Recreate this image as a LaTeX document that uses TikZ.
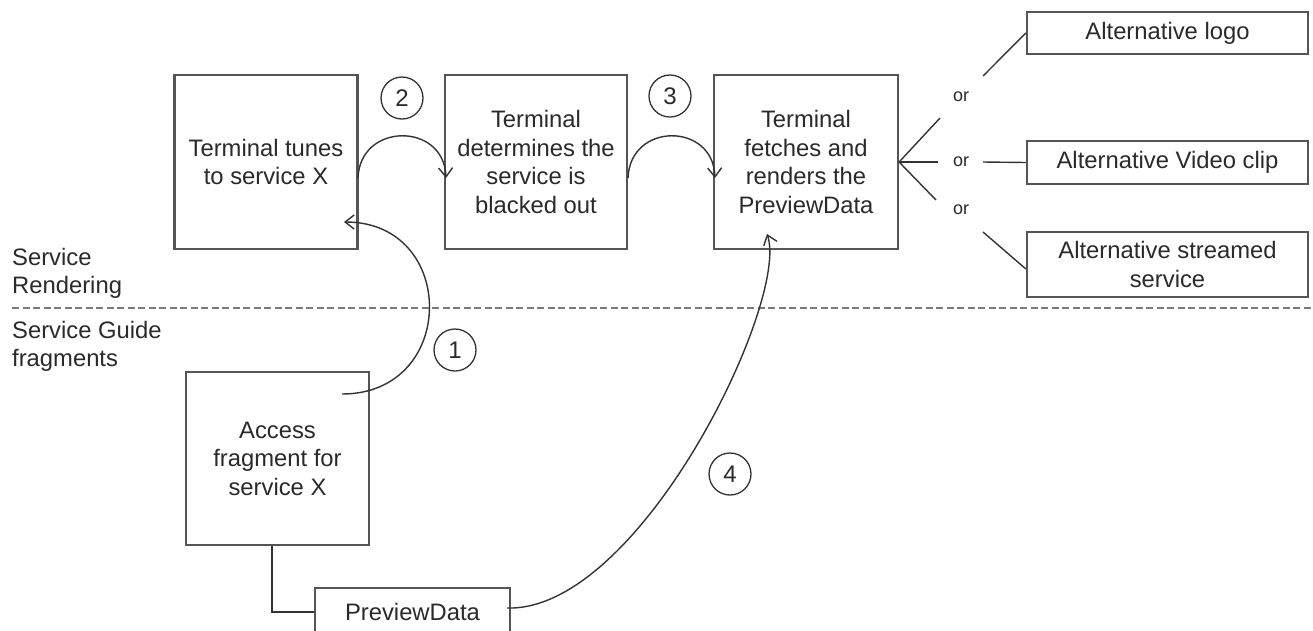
\documentclass[tikz,border=0pt]{standalone}
\usepackage{fontspec}
\setmainfont{Liberation Sans}
\usetikzlibrary{arrows.meta}
\definecolor{txt}{HTML}{2A2A2A}
\definecolor{edge}{HTML}{555555}
\definecolor{wire}{HTML}{333333}
\definecolor{sepgray}{HTML}{7A7A7A}
\begin{document}
\begin{tikzpicture}[x=1pt,y=-1pt,
  every node/.style={text=txt},
  box/.style={draw=edge,line width=2.2pt,align=center,inner sep=0pt,
    font=\fontsize{23.8}{28.5}\selectfont},
  num/.style={draw=wire,circle,line width=1.3pt,minimum size=42pt,inner sep=0pt,
    font=\fontsize{24}{24}\selectfont},
  lbl/.style={anchor=base west,inner sep=0pt,font=\fontsize{23.8}{28}\selectfont},
  ortxt/.style={inner sep=0pt,font=\fontsize{18}{18}\selectfont},
  conn/.style={draw=wire,line width=1.4pt},
  arr/.style={conn,-{Straight Barb[length=9pt,width=14pt,line width=1.4pt]}},
  seprule/.style={draw=sepgray,line width=2.6pt,dash pattern=on 7pt off 3.5pt}
]
\useasboundingbox (0,0) rectangle (1313,630);
\fill[white] (0,0) rectangle (1313,630);

% top row
\node[box,minimum width=183pt,minimum height=174pt] (b1) at (266,162) {Terminal tunes\\to service X};
\node[box,minimum width=182pt,minimum height=174pt] (b2) at (536,162) {Terminal\\determines the\\service is\\blacked out};
\node[box,minimum width=184pt,minimum height=174pt] (b3) at (806,162) {Terminal\\fetches and\\renders the\\PreviewData};

% alternatives
\node[box,minimum width=281pt,minimum height=42pt] (logo) at (1167.5,33) {Alternative logo};
\node[box,minimum width=281pt,minimum height=43pt] (video) at (1167.5,162.5) {Alternative Video clip};
\node[box,minimum width=281pt,minimum height=65pt] (strm) at (1167.5,264.5) {Alternative streamed\\service};

\node[ortxt] (or1) at (961,97) {or};
\node[ortxt] (or2) at (961,162) {or};
\node[ortxt] (or3) at (961,210) {or};
\coordinate (f1a) at (940,118);
\coordinate (f1b) at (983,76);
\coordinate (f2a) at (938,162);
\coordinate (f2b) at (983,162);
\coordinate (f3a) at (936,200);
\coordinate (f3b) at (983,232);
\draw[conn] (b3.east) -- (f1a);
\draw[conn] (f1b) -- (logo.west);
\draw[conn] (b3.east) -- (f2a);
\draw[conn] (f2b) -- (video.west);
\draw[conn] (b3.east) -- (f3a);
\draw[conn] (f3b) -- (strm.west |- 0,269);

% bottom
\node[box,minimum width=183pt,minimum height=173pt] (b4) at (277.5,458.5) {Access\\fragment for\\service X};
\node[box,minimum width=195pt,minimum height=48pt] (pd) at (412.5,612) {PreviewData};
\draw[conn] (b4.south -| 272,0) |- (pd.west);

% separator and labels
\coordinate (sepL) at (12,308);
\coordinate (sepR) at (1313,308);
\draw[seprule] (sepL) -- (sepR);
\node[lbl] (sr1) at (12,265) {Service};
\node[lbl] (sr2) at (12,293) {Rendering};
\node[lbl] (sg1) at (12,338) {Service Guide};
\node[lbl] (sg2) at (12,366) {fragments};

% numbers
\node[num] (n1) at (455,350) {1};
\node[num] (n2) at (402,98) {2};
\node[num] (n3) at (670,96) {3};
\node[num] (n4) at (730,474) {4};

% arcs
\coordinate (a1s) at (342,394);
\coordinate (a1e) at (344,222);
\draw[arr] (a1s) .. controls (458,394) and (458,222) .. (a1e);
\coordinate (a2s) at (358,178);
\coordinate (a2e) at (446,178);
\draw[arr] (a2s) .. controls (360,122) and (444,122) .. (a2e);
\coordinate (a3s) at (628,178);
\coordinate (a3e) at (715,178);
\draw[arr] (a3s) .. controls (630,122) and (713,122) .. (a3e);
\coordinate (a4s) at (507,608);
\coordinate (a4e) at (767,234);
\draw[arr] (a4s) .. controls (640,612) and (790,300) .. (a4e);
\end{tikzpicture}
\end{document}
